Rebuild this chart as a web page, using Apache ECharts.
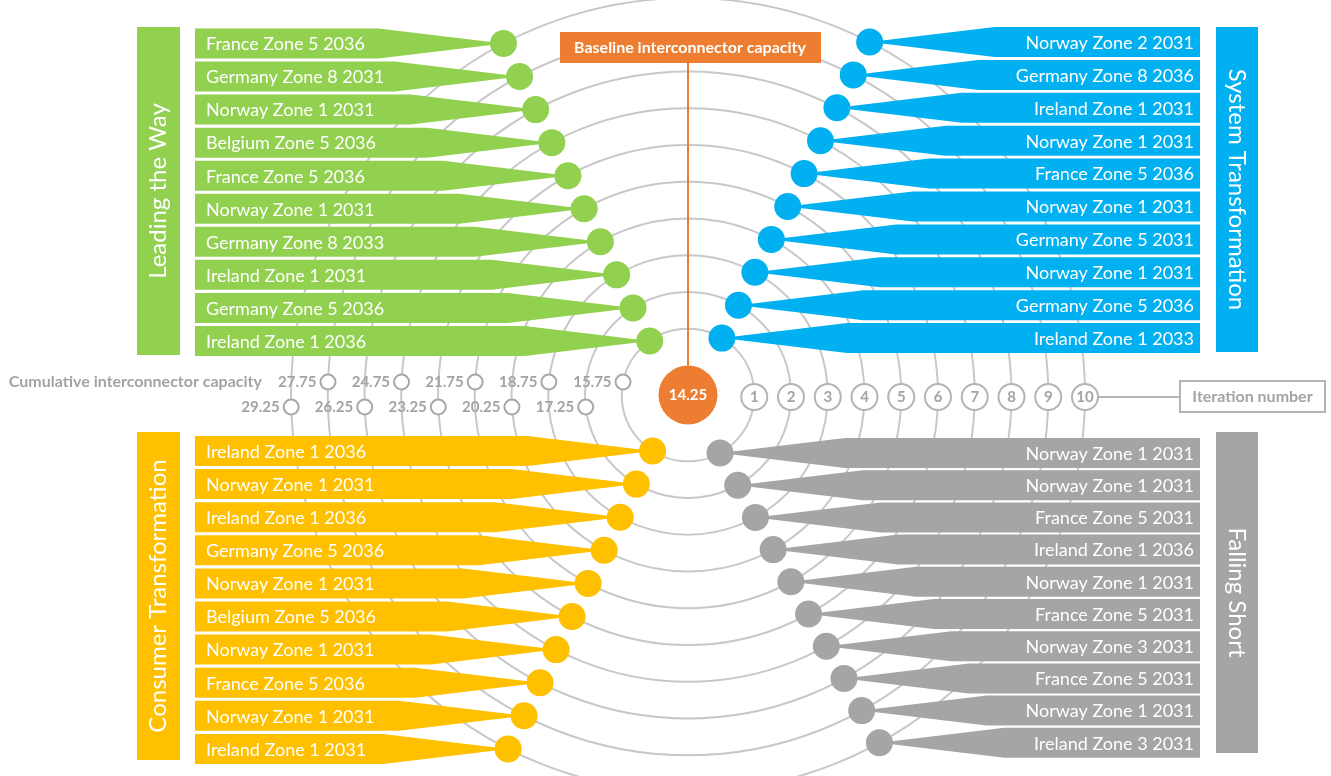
<!DOCTYPE html>
<html>
<head>
<meta charset="utf-8">
<script src="https://cdn.jsdelivr.net/npm/echarts@6/dist/echarts.min.js"></script>
<style>
  html, body { margin: 0; padding: 0; background: #fff; }
  #chart { width: 1331px; height: 776px; }
</style>
</head>
<body>
<div id="chart"></div>
<script>
// ---- data ----
const baselineCapacity = 14.25;
const iterations = [1, 2, 3, 4, 5, 6, 7, 8, 9, 10];
const cumulativeCapacity = [15.75, 17.25, 18.75, 20.25, 21.75, 23.25, 24.75, 26.25, 27.75, 29.25];

const leadingTheWay = [
  'France Zone 5 2036', 'Germany Zone 8 2031', 'Norway Zone 1 2031', 'Belgium Zone 5 2036',
  'France Zone 5 2036', 'Norway Zone 1 2031', 'Germany Zone 8 2033', 'Ireland Zone 1 2031',
  'Germany Zone 5 2036', 'Ireland Zone 1 2036'
];
const leadingIter = [10, 9, 8, 7, 6, 5, 4, 3, 2, 1];

const systemTransformation = [
  'Norway Zone 2 2031', 'Germany Zone 8 2036', 'Ireland Zone 1 2031', 'Norway Zone 1 2031',
  'France Zone 5 2036', 'Norway Zone 1 2031', 'Germany Zone 5 2031', 'Norway Zone 1 2031',
  'Germany Zone 5 2036', 'Ireland Zone 1 2033'
];
const systemIter = [10, 9, 8, 7, 6, 5, 4, 3, 2, 1];

const consumerTransformation = [
  'Ireland Zone 1 2036', 'Norway Zone 1 2031', 'Ireland Zone 1 2036', 'Germany Zone 5 2036',
  'Norway Zone 1 2031', 'Belgium Zone 5 2036', 'Norway Zone 1 2031', 'France Zone 5 2036',
  'Norway Zone 1 2031', 'Ireland Zone 1 2031'
];
const consumerIter = [1, 2, 3, 4, 5, 6, 7, 8, 9, 10];

const fallingShort = [
  'Norway Zone 1 2031', 'Norway Zone 1 2031', 'France Zone 5 2031', 'Ireland Zone 1 2036',
  'Norway Zone 1 2031', 'France Zone 5 2031', 'Norway Zone 3 2031', 'France Zone 5 2031',
  'Norway Zone 1 2031', 'Ireland Zone 3 2031'
];
const fallingIter = [1, 2, 3, 4, 5, 6, 7, 8, 9, 10];

// ---- layout ----
const W = 1331, H = 776;
const CX = 688, CY = 395;
const R0 = 29.5, STEP = 36.75;
const FONT = 'Lato, "Open Sans", sans-serif';
const GREY_TEXT = '#a3a3a3';

function ringRadius(k) { return R0 + STEP * k; }

const quadrants = [
  { title: 'Leading the Way', labels: leadingTheWay, iter: leadingIter, color: '#92D050', side: 'left', top: 43.5, pitch: 33.05 },
  { title: 'System Transformation', labels: systemTransformation, iter: systemIter, color: '#00B0F0', side: 'right', top: 42, pitch: 32.9 },
  { title: 'Consumer Transformation', labels: consumerTransformation, iter: consumerIter, color: '#FFC000', side: 'left', top: 451, pitch: 33.1 },
  { title: 'Falling Short', labels: fallingShort, iter: fallingIter, color: '#A5A5A5', side: 'right', top: 453, pitch: 32.2 }
];

function dotPoint(q, i) {
  const y = q.top + q.pitch * i;
  const r = ringRadius(q.iter[i]);
  const dy = y - CY;
  const dx = Math.sqrt(Math.max(r * r - dy * dy, 0));
  return [q.side === 'left' ? CX - dx : CX + dx, y];
}

const series = [];

// rings
series.push({
  type: 'custom',
  silent: true,
  z: 1,
  data: iterations.map(k => [k]),
  renderItem(params, api) {
    const c = api.coord([CX, CY]);
    const r = api.size([ringRadius(api.value(0)), 0])[0];
    return {
      type: 'circle',
      shape: { cx: c[0], cy: c[1], r },
      style: { fill: 'none', stroke: '#c8c8c8', lineWidth: 2 }
    };
  }
});

// callouts + dots
quadrants.forEach(q => {
  const pts = q.labels.map((name, i) => ({ name, value: dotPoint(q, i) }));
  series.push({
    type: 'custom',
    silent: true,
    z: 3,
    data: pts,
    renderItem(params, api) {
      const tip = api.coord([api.value(0), api.value(1)]);
      const half = 15, taper = 125;
      const y = tip[1];
      let points, tx, align;
      if (q.side === 'left') {
        const x0 = api.coord([195, 0])[0];
        const xr = tip[0] - taper;
        points = [[x0, y - half], [xr, y - half], [tip[0], y], [xr, y + half], [x0, y + half]];
        tx = x0 + 11; align = 'left';
      } else {
        const x1 = api.coord([1200, 0])[0];
        const xl = tip[0] + taper;
        points = [[x1, y - half], [xl, y - half], [tip[0], y], [xl, y + half], [x1, y + half]];
        tx = x1 - 6; align = 'right';
      }
      return {
        type: 'group',
        children: [
          { type: 'polygon', shape: { points }, style: { fill: q.color } },
          {
            type: 'text', x: tx, y: y + 1,
            style: {
              text: pts[params.dataIndex].name, fill: '#fff', font: '18px ' + FONT,
              align, verticalAlign: 'middle', textAlign: align, textVerticalAlign: 'middle'
            }
          }
        ]
      };
    }
  });
  series.push({
    type: 'scatter',
    silent: true,
    z: 4,
    symbolSize: 27,
    itemStyle: { color: q.color, opacity: 1 },
    data: pts.map(p => p.value)
  });
});

// iteration markers
series.push({
  type: 'scatter',
  silent: true,
  z: 5,
  symbolSize: 26,
  itemStyle: { color: '#fff', borderColor: '#b4b4b4', borderWidth: 2, opacity: 1 },
  label: {
    show: true, position: 'inside', color: GREY_TEXT, fontWeight: 'bold', fontSize: 15, fontFamily: FONT,
    formatter: p => String(p.value[2])
  },
  data: iterations.map(k => [CX + ringRadius(k), CY + 2, k])
});

// cumulative capacity markers
series.push({
  type: 'scatter',
  silent: true,
  z: 5,
  symbolSize: 15,
  itemStyle: { color: '#fff', borderColor: '#a8a8a8', borderWidth: 2, opacity: 1 },
  label: {
    show: true, position: 'left', distance: 3, color: GREY_TEXT, fontWeight: 'bold', fontSize: 15, fontFamily: FONT,
    formatter: p => p.value[2].toFixed(2)
  },
  data: cumulativeCapacity.map((v, j) => {
    const r = ringRadius(j + 1);
    const y = j % 2 === 0 ? 382 : 407;
    const dy = y - CY;
    return [CX - Math.sqrt(r * r - dy * dy), y, v];
  })
});

// baseline circle
series.push({
  type: 'scatter',
  silent: true,
  z: 6,
  symbolSize: R0 * 2,
  itemStyle: { color: '#ED7D31', opacity: 1 },
  label: {
    show: true, position: 'inside', color: '#fff', fontWeight: 'bold', fontSize: 15, fontFamily: FONT,
    formatter: p => p.value[2].toFixed(2)
  },
  data: [[CX, CY, baselineCapacity]]
});

// ---- decorations ----
function sideBar(x, y, w, h, color, text, rot) {
  return [
    { type: 'rect', shape: { x, y, width: w, height: h }, style: { fill: color }, z: 10 },
    {
      type: 'text', x: x + w / 2, y: y + h / 2, rotation: rot, z: 11,
      style: {
        text, fill: '#fff', font: '24px ' + FONT,
        align: 'center', verticalAlign: 'middle', textAlign: 'center', textVerticalAlign: 'middle'
      }
    }
  ];
}

const graphic = [].concat(
  sideBar(137, 27, 43, 328, '#92D050', quadrants[0].title, Math.PI / 2),
  sideBar(1216, 27, 42, 325, '#00B0F0', quadrants[1].title, -Math.PI / 2),
  sideBar(137, 432, 43, 328, '#FFC000', quadrants[2].title, Math.PI / 2),
  sideBar(1216, 432, 42, 321, '#A5A5A5', quadrants[3].title, -Math.PI / 2),
  [
    { type: 'line', shape: { x1: CX, y1: 62, x2: CX, y2: CY - R0 }, style: { stroke: '#ED7D31', lineWidth: 2 }, z: 10 },
    { type: 'rect', shape: { x: 560, y: 32, width: 261, height: 31 }, style: { fill: '#ED7D31' }, z: 10 },
    {
      type: 'text', x: 690, y: 47.5, z: 11,
      style: {
        text: 'Baseline interconnector capacity', fill: '#fff', font: 'bold 16px ' + FONT,
        align: 'center', verticalAlign: 'middle', textAlign: 'center', textVerticalAlign: 'middle'
      }
    },
    { type: 'line', shape: { x1: CX + ringRadius(10) + 13, y1: CY + 2, x2: 1180, y2: CY + 2 }, style: { stroke: '#b4b4b4', lineWidth: 2 }, z: 10 },
    { type: 'rect', shape: { x: 1180, y: 381, width: 145, height: 31 }, style: { fill: '#fff', stroke: '#b4b4b4', lineWidth: 2 }, z: 10 },
    {
      type: 'text', x: 1252.5, y: 397, z: 11,
      style: {
        text: 'Iteration number', fill: GREY_TEXT, font: 'bold 16px ' + FONT,
        align: 'center', verticalAlign: 'middle', textAlign: 'center', textVerticalAlign: 'middle'
      }
    },
    {
      type: 'text', x: 262, y: 382, z: 11,
      style: {
        text: 'Cumulative interconnector capacity', fill: GREY_TEXT, font: 'bold 16px ' + FONT,
        align: 'right', verticalAlign: 'middle', textAlign: 'right', textVerticalAlign: 'middle'
      }
    }
  ]
);

const chart = echarts.init(document.getElementById('chart'));
chart.setOption({
  animation: false,
  grid: { left: 0, right: 0, top: 0, bottom: 0 },
  xAxis: { type: 'value', min: 0, max: W, show: false },
  yAxis: { type: 'value', min: 0, max: H, inverse: true, show: false },
  graphic,
  series
});
</script>
</body>
</html>
